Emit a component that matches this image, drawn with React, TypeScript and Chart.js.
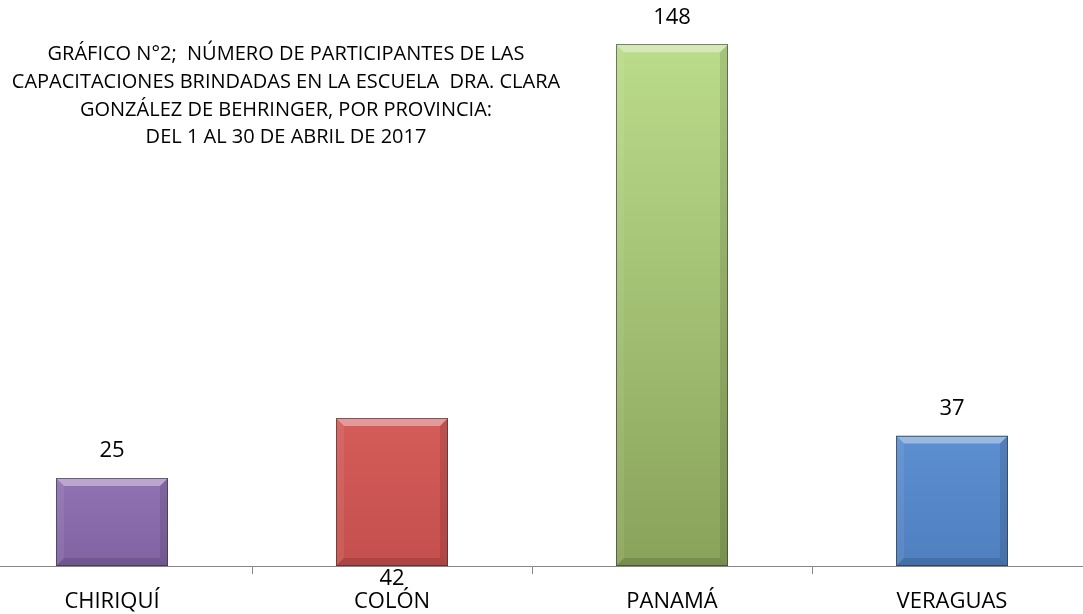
import React, { useEffect, useRef } from "react";
import { Chart, registerables } from "chart.js";

Chart.register(...registerables);

// ---- data ----
const categories = ["CHIRIQUÍ", "COLÓN", "PANAMÁ", "VERAGUAS"];
const participants = [25, 42, 148, 37];
const titleLines = [
  "GRÁFICO N°2;  NÚMERO DE PARTICIPANTES DE LAS",
  "CAPACITACIONES BRINDADAS EN LA ESCUELA  DRA. CLARA",
  "GONZÁLEZ DE BEHRINGER, POR PROVINCIA:",
  "DEL 1 AL 30 DE ABRIL DE 2017",
];
const yMin = 0;
const yMax = 160;
// value labels that the source places at the axis instead of above the bar
const labelsAtBase = ["COLÓN"];

// ---- style ----
const barTopColors = ["#9072b2", "#d45d5a", "#bbdc8b", "#5c8fd1"];
const barBottomColors = ["#8163a4", "#c54f4c", "#89a35a", "#4f7fbf"];
const FONT = "'Open Sans', 'DejaVu Sans', sans-serif";
const VIEW_W = 1083;
const VIEW_H = 614;
const LEFT_OVERHANG = 28;
const BOTTOM_OVERHANG = 19;
const CANVAS_W = 1120;
const CANVAS_H = VIEW_H + BOTTOM_OVERHANG;

const decorPlugin = {
  id: "decor",
  afterDatasetsDraw(chart: any) {
    const ctx = chart.ctx as CanvasRenderingContext2D;
    const meta = chart.getDatasetMeta(0);
    meta.data.forEach((bar: any, i: number) => {
      const { x, y, base, width } = bar.getProps(["x", "y", "base", "width"], true);
      const x0 = x - width / 2;
      const x1 = x + width / 2;
      const y0 = Math.min(y, base);
      const y1 = Math.max(y, base);
      const b = Math.min(8, (y1 - y0) / 2);
      ctx.save();
      // top bevel (light)
      ctx.fillStyle = "rgba(255,255,255,0.38)";
      ctx.beginPath();
      ctx.moveTo(x0, y0);
      ctx.lineTo(x1, y0);
      ctx.lineTo(x1 - b, y0 + b);
      ctx.lineTo(x0 + b, y0 + b);
      ctx.closePath();
      ctx.fill();
      // left bevel
      ctx.fillStyle = "rgba(255,255,255,0.07)";
      ctx.beginPath();
      ctx.moveTo(x0, y0);
      ctx.lineTo(x0 + b, y0 + b);
      ctx.lineTo(x0 + b, y1 - b);
      ctx.lineTo(x0, y1);
      ctx.closePath();
      ctx.fill();
      // right bevel (dark)
      ctx.fillStyle = "rgba(0,0,0,0.11)";
      ctx.beginPath();
      ctx.moveTo(x1, y0);
      ctx.lineTo(x1, y1);
      ctx.lineTo(x1 - b, y1 - b);
      ctx.lineTo(x1 - b, y0 + b);
      ctx.closePath();
      ctx.fill();
      // bottom bevel (dark)
      ctx.fillStyle = "rgba(0,0,0,0.13)";
      ctx.beginPath();
      ctx.moveTo(x0, y1);
      ctx.lineTo(x1, y1);
      ctx.lineTo(x1 - b, y1 - b);
      ctx.lineTo(x0 + b, y1 - b);
      ctx.closePath();
      ctx.fill();
      // outline
      ctx.strokeStyle = "rgba(40,40,40,0.55)";
      ctx.lineWidth = 1;
      ctx.strokeRect(Math.round(x0) + 0.5, Math.round(y0) + 0.5, Math.round(x1 - x0) - 1, Math.round(y1 - y0) - 1);
      ctx.restore();

      // value label
      ctx.save();
      ctx.font = `22px ${FONT}`;
      ctx.fillStyle = "#000";
      ctx.textAlign = "center";
      ctx.textBaseline = "middle";
      const atBase = labelsAtBase.includes(categories[i]);
      const ly = atBase ? y1 + 13 : y0 - 27;
      ctx.fillText(String(participants[i]), x, ly);
      ctx.restore();
    });
  },
  afterDraw(chart: any) {
    const ctx = chart.ctx as CanvasRenderingContext2D;
    ctx.save();
    ctx.font = `20px ${FONT}`;
    ctx.fillStyle = "#000";
    ctx.textAlign = "center";
    ctx.textBaseline = "middle";
    const cx = 286 + LEFT_OVERHANG;
    titleLines.forEach((line, k) => {
      ctx.fillText(line, cx, 54 + k * 27.9);
    });
    ctx.restore();
  },
};

export default function App() {
  const canvasRef = useRef<HTMLCanvasElement | null>(null);

  useEffect(() => {
    const canvas = canvasRef.current;
    if (!canvas) return;
    const gradientFor = (c: any) => {
      const i = c.dataIndex;
      const chart = c.chart;
      const ys = chart.scales?.y;
      if (!chart.chartArea || !ys || i === undefined) return barTopColors[i ?? 0];
      const top = ys.getPixelForValue(participants[i]);
      const bottom = ys.getPixelForValue(0);
      const g = chart.ctx.createLinearGradient(0, top, 0, bottom);
      g.addColorStop(0, barTopColors[i]);
      g.addColorStop(1, barBottomColors[i]);
      return g;
    };
    const chart = new Chart(canvas, {
      type: "bar",
      data: {
        labels: categories,
        datasets: [
          {
            data: participants,
            backgroundColor: gradientFor,
            borderWidth: 0,
            categoryPercentage: 1,
            barPercentage: 0.4,
          },
        ],
      },
      options: {
        animation: false,
        responsive: false,
        devicePixelRatio: 1,
        events: [],
        layout: { padding: { left: 0, right: 0, top: 2, bottom: 3 } },
        plugins: {
          legend: { display: false },
          title: { display: false },
          tooltip: { enabled: false },
        },
        scales: {
          x: {
            grid: {
              display: true,
              drawOnChartArea: false,
              drawTicks: true,
              tickLength: 8,
              color: "#868686",
              offset: true,
            },
            border: { display: true, color: "#868686", width: 1 },
            ticks: {
              color: "#000",
              padding: 17,
              font: { family: FONT, size: 22, lineHeight: 1.0 },
              maxRotation: 0,
              autoSkip: false,
            },
          },
          y: {
            display: false,
            min: yMin,
            max: yMax,
          },
        },
      },
      plugins: [decorPlugin],
    });
    return () => chart.destroy();
  }, []);

  return (
    <div
      style={{
        position: "fixed",
        left: 0,
        top: 0,
        width: VIEW_W,
        height: VIEW_H,
        overflow: "hidden",
        background: "#fff",
      }}
    >
      <canvas
        ref={canvasRef}
        width={CANVAS_W}
        height={CANVAS_H}
        style={{ position: "absolute", left: -LEFT_OVERHANG, top: 0, width: CANVAS_W, height: CANVAS_H }}
      />
    </div>
  );
}
